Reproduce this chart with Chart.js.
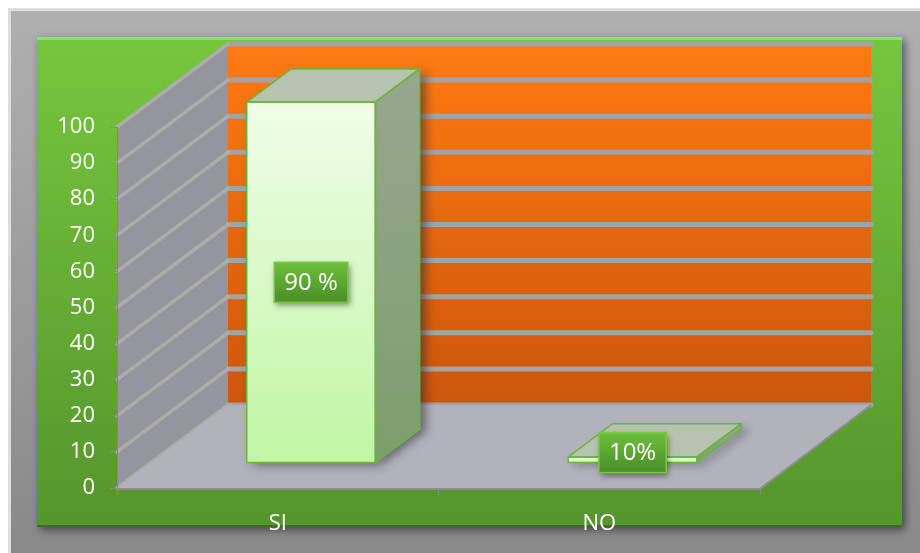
<!DOCTYPE html>
<html>
<head>
<meta charset="utf-8">
<script src="https://cdn.jsdelivr.net/npm/chart.js"></script>
<style>
  html, body { margin: 0; padding: 0; background: #fff; }
  #wrap { width: 920px; height: 553px; }
</style>
</head>
<body>
<div id="wrap"><canvas id="grafico" width="920" height="553"></canvas></div>
<script>
// datos
var categorias = ['SI', 'NO'];
var valores = [100, 1.7];          // altura de las barras
var etiquetas = ['90 %', '10%'];   // texto de las etiquetas
var yMin = 0, yMax = 100, yPaso = 10;

// profundidad del 3D
var DX = 111, DY = 83;
var FRENTE = 0.3, FONDO = 0.7;
var fuente = "'Open Sans', 'Noto Sans', sans-serif";

function poly(ctx, pts) {
    ctx.beginPath();
    ctx.moveTo(pts[0][0], pts[0][1]);
    for (var i = 1; i < pts.length; i++) ctx.lineTo(pts[i][0], pts[i][1]);
    ctx.closePath();
}

var fondo3d = {
    id: 'fondo3d',
    beforeDraw: function (chart) {
        var ctx = chart.ctx, W = chart.width, H = chart.height;
        var a = chart.chartArea, y = chart.scales.y;
        ctx.save();
        ctx.fillStyle = '#fff';
        ctx.fillRect(0, 0, W, H);

        // marco gris
        var g = ctx.createLinearGradient(0, 8, 0, H);
        g.addColorStop(0, '#b0b0b0');
        g.addColorStop(1, '#898989');
        ctx.fillStyle = g;
        ctx.fillRect(8, 8, W - 8, H - 8);
        ctx.fillStyle = '#dedede';
        ctx.fillRect(8, 8, W - 8, 3);
        ctx.fillRect(8, 8, 3, H - 8);

        // panel verde
        ctx.save();
        ctx.shadowColor = 'rgba(0,0,0,0.5)';
        ctx.shadowBlur = 8;
        ctx.shadowOffsetX = 3;
        ctx.shadowOffsetY = 3;
        var gv = ctx.createLinearGradient(0, 37, 0, 527);
        gv.addColorStop(0, '#76c63d');
        gv.addColorStop(1, '#55952d');
        ctx.fillStyle = gv;
        ctx.fillRect(37, 37, 865, 490);
        ctx.restore();
        ctx.fillStyle = '#93e253';
        ctx.fillRect(37, 37, 865, 3);
        ctx.fillStyle = 'rgba(40,90,20,0.6)';
        ctx.fillRect(37, 525, 865, 2);

        var x0 = a.left, x1 = a.right;
        var yT = y.getPixelForValue(yMax), yB = y.getPixelForValue(yMin);

        // pared del fondo
        var go = ctx.createLinearGradient(0, yT - DY, 0, yB - DY);
        go.addColorStop(0, '#ff7a12');
        go.addColorStop(1, '#cc560c');
        ctx.fillStyle = go;
        ctx.fillRect(x0 + DX, yT - DY, x1 - x0, yB - yT);

        // pared lateral
        ctx.fillStyle = '#95959d';
        poly(ctx, [[x0, yT], [x0 + DX, yT - DY], [x0 + DX, yB - DY], [x0, yB]]);
        ctx.fill();

        // lineas de division
        ctx.lineCap = 'round';
        y.ticks.forEach(function (t) {
            var py = y.getPixelForValue(t.value);
            ctx.strokeStyle = '#a3a3a3';
            ctx.lineWidth = 5;
            ctx.beginPath();
            ctx.moveTo(x0 + DX, py - DY);
            ctx.lineTo(x1 + DX, py - DY);
            ctx.stroke();
            ctx.strokeStyle = '#acacac';
            ctx.lineWidth = 3.5;
            ctx.beginPath();
            ctx.moveTo(x0, py);
            ctx.lineTo(x0 + DX, py - DY);
            ctx.stroke();
        });

        // piso
        ctx.fillStyle = '#b1b3bb';
        poly(ctx, [[x0, yB], [x1, yB], [x1 + DX, yB - DY], [x0 + DX, yB - DY]]);
        ctx.fill();
        ctx.lineCap = 'butt';
        ctx.strokeStyle = '#8e8e8e';
        ctx.lineWidth = 2;
        ctx.beginPath();
        ctx.moveTo(x0, yB + 1);
        ctx.lineTo(x1, yB + 1);
        ctx.lineTo(x1 + DX, yB - DY);
        ctx.stroke();
        ctx.lineWidth = 1;
        ctx.strokeStyle = '#85858c';
        ctx.beginPath();
        ctx.moveTo(x0 + 0.5, yT);
        ctx.lineTo(x0 + 0.5, yB);
        ctx.stroke();
        ctx.restore();
    },
    afterDatasetsDraw: function (chart) {
        var ctx = chart.ctx;
        var meta = chart.getDatasetMeta(0);
        ctx.save();
        meta.data.forEach(function (el) {
            var w = el.width, L = el.x - w / 2, R = el.x + w / 2;
            var top = el.y, base = el.base;
            var fx0 = FRENTE * DX, fy0 = FRENTE * DY, fx1 = FONDO * DX, fy1 = FONDO * DY;
            var frente = [[L + fx0, top - fy0], [R + fx0, top - fy0], [R + fx0, base - fy0], [L + fx0, base - fy0]];
            var arriba = [[L + fx0, top - fy0], [R + fx0, top - fy0], [R + fx1, top - fy1], [L + fx1, top - fy1]];
            var lado = [[R + fx0, top - fy0], [R + fx1, top - fy1], [R + fx1, base - fy1], [R + fx0, base - fy0]];

            // sombra
            ctx.save();
            ctx.shadowColor = 'rgba(40,40,50,0.55)';
            ctx.shadowBlur = 10;
            ctx.shadowOffsetX = 6;
            ctx.shadowOffsetY = 2;
            ctx.fillStyle = '#7e9f70';
            poly(ctx, lado); ctx.fill();
            poly(ctx, frente); ctx.fill();
            ctx.restore();

            var gl = ctx.createLinearGradient(0, top - fy1, 0, base - fy0);
            gl.addColorStop(0, '#98a78f');
            gl.addColorStop(1, '#7c9e6c');
            ctx.fillStyle = gl;
            poly(ctx, lado); ctx.fill();

            ctx.fillStyle = '#b5c3af';
            poly(ctx, arriba); ctx.fill();

            var gf = ctx.createLinearGradient(0, top - fy0, 0, base - fy0);
            gf.addColorStop(0, '#f0fde9');
            gf.addColorStop(1, '#c0f6a3');
            ctx.fillStyle = gf;
            poly(ctx, frente); ctx.fill();

            ctx.strokeStyle = '#6cb43e';
            ctx.lineWidth = 1.5;
            ctx.lineJoin = 'round';
            [lado, arriba, frente].forEach(function (p) { poly(ctx, p); ctx.stroke(); });
        });
        ctx.restore();
    },
    afterDraw: function (chart) {
        var ctx = chart.ctx;
        var meta = chart.getDatasetMeta(0);
        ctx.save();
        ctx.font = '24px ' + fuente;
        ctx.textAlign = 'center';
        ctx.textBaseline = 'middle';
        meta.data.forEach(function (el, i) {
            var fx0 = FRENTE * DX, fy0 = FRENTE * DY;
            var cx = el.x + fx0;
            var cy = Math.min((el.y + el.base) / 2 - fy0, el.base - fy0 - 10);
            var txt = etiquetas[i];
            var bw = ctx.measureText(txt).width + 20, bh = 40;
            ctx.save();
            ctx.shadowColor = 'rgba(0,0,0,0.45)';
            ctx.shadowBlur = 6;
            ctx.shadowOffsetX = 2;
            ctx.shadowOffsetY = 3;
            var gb = ctx.createLinearGradient(0, cy - bh / 2, 0, cy + bh / 2);
            gb.addColorStop(0, '#6dbf3b');
            gb.addColorStop(1, '#4a8e28');
            ctx.fillStyle = gb;
            ctx.fillRect(cx - bw / 2, cy - bh / 2, bw, bh);
            ctx.restore();
            ctx.strokeStyle = '#78c846';
            ctx.lineWidth = 1.5;
            ctx.strokeRect(cx - bw / 2, cy - bh / 2, bw, bh);
            ctx.fillStyle = '#ffffff';
            ctx.fillText(txt, cx, cy + 1);
        });
        ctx.restore();
    }
};

new Chart(document.getElementById('grafico').getContext('2d'), {
    type: 'bar',
    data: {
        labels: categorias,
        datasets: [{
            data: valores,
            backgroundColor: 'rgba(0,0,0,0)',
            borderWidth: 0,
            barPercentage: 0.4,
            categoryPercentage: 1
        }]
    },
    options: {
        responsive: false,
        animation: false,
        layout: { padding: { top: 127, right: 160, bottom: 0, left: 0 } },
        plugins: { legend: { display: false }, tooltip: { enabled: false } },
        scales: {
            x: {
                ticks: { color: '#ffffff', font: { size: 22, family: fuente }, padding: 16 },
                grid: { drawOnChartArea: false, tickLength: 7, color: '#8a8a8a', offset: true },
                border: { display: false },
                afterFit: function (s) { s.height = 65; }
            },
            y: {
                min: yMin,
                max: yMax,
                ticks: { stepSize: yPaso, color: '#ffffff', font: { size: 22, family: fuente }, padding: 15 },
                grid: { drawOnChartArea: false, tickLength: 7, color: '#8a8a8a' },
                border: { display: false },
                afterFit: function (s) { s.width = 117; }
            }
        }
    },
    plugins: [fondo3d]
});
</script>
</body>
</html>
